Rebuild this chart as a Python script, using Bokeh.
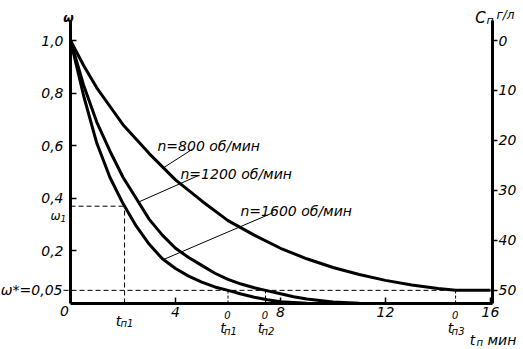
import numpy as np
from bokeh.plotting import figure
from bokeh.models import Range1d, LinearAxis, FixedTicker, Label
from bokeh.embed import file_html
from bokeh.resources import INLINE

# ---- data ----
t_800 = [0, 0.5, 1, 1.5, 2, 3, 4, 5, 6, 7, 8, 9, 10, 11, 12, 13, 14, 14.67, 16]
w_800 = [1.0, 0.905, 0.82, 0.75, 0.68, 0.57, 0.47, 0.39, 0.315, 0.26, 0.21, 0.17, 0.137, 0.11, 0.088, 0.07, 0.057, 0.05, 0.05]
t_1200 = [0, 0.5, 1, 1.5, 2, 2.5, 3, 3.5, 4, 4.5, 5, 5.5, 6, 6.5, 7, 7.43, 8, 8.5, 9, 10, 11, 12, 14]
w_1200 = [1.0, 0.83, 0.69, 0.58, 0.48, 0.40, 0.32, 0.26, 0.21, 0.175, 0.145, 0.115, 0.092, 0.074, 0.06, 0.05, 0.037, 0.026, 0.017, 0.006, 0.001, 0, 0]
t_1600 = [0, 0.5, 1, 1.5, 2, 2.5, 3, 3.5, 4, 4.5, 5, 5.5, 6, 6.5, 7, 7.5, 8, 9, 10, 12, 14]
w_1600 = [1.0, 0.79, 0.61, 0.48, 0.38, 0.295, 0.225, 0.17, 0.133, 0.104, 0.081, 0.063, 0.05, 0.036, 0.024, 0.014, 0.007, 0.001, 0, 0, 0]

curve_names = ["n=800 об/мин", "n=1200 об/мин", "n=1600  об/мин"]

omega_star = 0.05
omega_1 = 0.37
t_p1 = 2.06
t0_p = [6.0, 7.43, 14.67]
t0_sub = ["п1", "п2", "п3"]

left_ticks = [0.2, 0.4, 0.6, 0.8, 1.0]
left_labels = ["0,2", "0,4", "0,6", "0,8", "1,0"]
bottom_ticks = [4, 8, 12, 16]
bottom_labels = ["4", "8", "12", "16"]
right_ticks = [0, 10, 20, 30, 40, 50]
right_labels = ["0", "10", "20", "30", "40", "50"]
c_max = 50

FONT = "DejaVu Sans"
FS = "14px"

# ---- geometry of the drawing area ----
W, H = 522, 348            # canvas = frame
OX, OY = 70, 303           # pixel position of the origin
SX, SY = 26.25, 263.0      # pixels per unit (t, omega)
X_AX_END = 16.08           # end of time axis
Y_AX_END = 1.076           # end of omega axis

def X(px):                 # canvas pixel -> t
    return (px - OX) / SX
def Y(py):                 # canvas pixel -> omega
    return (OY - py) / SY
def C(w):                  # omega -> concentration scale
    return c_max * (1 - w) / (1 - omega_star)

p = figure(frame_width=W, frame_height=H,
           min_border_left=0, min_border_top=0, min_border_right=0, min_border_bottom=0,
           x_range=Range1d(X(0), X(W)), y_range=Range1d(Y(H), Y(0)),
           output_backend="svg", toolbar_location=None)
p.outline_line_color = None
p.grid.visible = False
p.background_fill_color = "white"
p.border_fill_color = "white"

xa = p.xaxis[0]
xa.ticker = FixedTicker(ticks=bottom_ticks)
xa.major_label_overrides = dict(zip(bottom_ticks, bottom_labels))
xa.fixed_location = 0
xa.bounds = (0, X_AX_END)

ya = p.yaxis[0]
ya.ticker = FixedTicker(ticks=left_ticks)
ya.major_label_overrides = dict(zip(left_ticks, left_labels))
ya.fixed_location = 0
ya.bounds = (0, Y_AX_END)

p.extra_y_ranges = {"c": Range1d(C(Y(H)), C(Y(0)))}
ra = LinearAxis(y_range_name="c", ticker=FixedTicker(ticks=right_ticks))
ra.major_label_overrides = dict(zip(right_ticks, right_labels))
ra.fixed_location = X_AX_END
ra.bounds = (C(Y_AX_END), C(0))
p.add_layout(ra, "right")

for ax in (xa, ya, ra):
    ax.axis_line_width = 3
    ax.axis_line_color = "black"
    ax.major_tick_line_width = 1.5
    ax.major_tick_line_color = "black"
    ax.minor_tick_line_color = None
    ax.major_label_text_font = FONT
    ax.major_label_text_font_style = "italic"
    ax.major_label_text_font_size = FS
    ax.major_label_text_color = "black"
xa.major_tick_in, xa.major_tick_out, xa.major_label_standoff = 6, 0, 3
ya.major_tick_in, ya.major_tick_out, ya.major_label_standoff = 6, 0, 7
ra.major_tick_in, ra.major_tick_out, ra.major_label_standoff = 0, 5, 1

# dashed reference lines
p.segment(x0=[0, t_p1, X(63)], y0=[omega_1, 0, omega_star], x1=[t_p1, t_p1, bottom_ticks[-1]],
          y1=[omega_1, omega_1, omega_star], line_color="black", line_width=1, line_dash="5 3")
p.segment(x0=t0_p, y0=[0] * 3, x1=t0_p, y1=[omega_star] * 3,
          line_color="black", line_width=1, line_dash="3 2")

# curves
curves = [(t_800, w_800), (t_1200, w_1200), (t_1600, w_1600)]
for t, w in curves:
    p.line(t, w, line_color="black", line_width=3, line_join="round")

def lab(x, y, text, size=FS, align="center", baseline="alphabetic", style="italic"):
    p.add_layout(Label(x=x, y=y, text=text, text_font=FONT, text_font_style=style,
                       text_font_size=size, text_align=align, text_baseline=baseline,
                       text_color="black"))

# curve labels with leader lines
label_pos = [(157, 145), (180, 173), (240, 210)]
leader_start = [(193, 148), (198, 175), (273, 212)]
leader_end_t = [3.54, 2.59, 3.54]
for (lx, ly), name, (sx, sy), te, (t, w) in zip(label_pos, curve_names, leader_start, leader_end_t, curves):
    lab(X(lx), Y(ly), name, align="left")
    p.segment(x0=[X(sx)], y0=[Y(sy)], x1=[te], y1=[float(np.interp(te, t, w))],
              line_color="black", line_width=1)

# axis titles
lab(X(68), Y(17), "ω", size="12px", style="bold italic")
lab(X(480), Y(17), "C", size="15px")
lab(X(486), Y(20), "п", size="11px", align="left")
lab(X(496), Y(14), "г/л", size="12px", align="left")
lab(X(472), Y(339), "t", size="14px")
lab(X(476), Y(342), "п", size="10px", align="left")
lab(X(487), Y(339), "мин", size="14px", align="left")

# origin and left-side labels
lab(X(64), Y(310), "0", baseline="middle")
lab(X(62), omega_star, "ω*=0,05", align="right", baseline="middle")
lab(X(55), Y(215), "ω", size="12px")
lab(X(60), Y(218), "1", size="9px", align="left")

# special time labels under the axis
lab(t_p1 - 6 / SX, Y(320), "t")
lab(t_p1 - 4 / SX, Y(323), "п1", size="10px", align="left")
for tv, sub in zip(t0_p, t0_sub):
    lab(tv - 5 / SX, Y(327), "t")
    lab(tv - 0.5 / SX, Y(314), "0", size="10px")
    lab(tv - 4 / SX, Y(331), sub, size="10px", align="left")

open("out.html", "w").write(file_html(p, INLINE))
